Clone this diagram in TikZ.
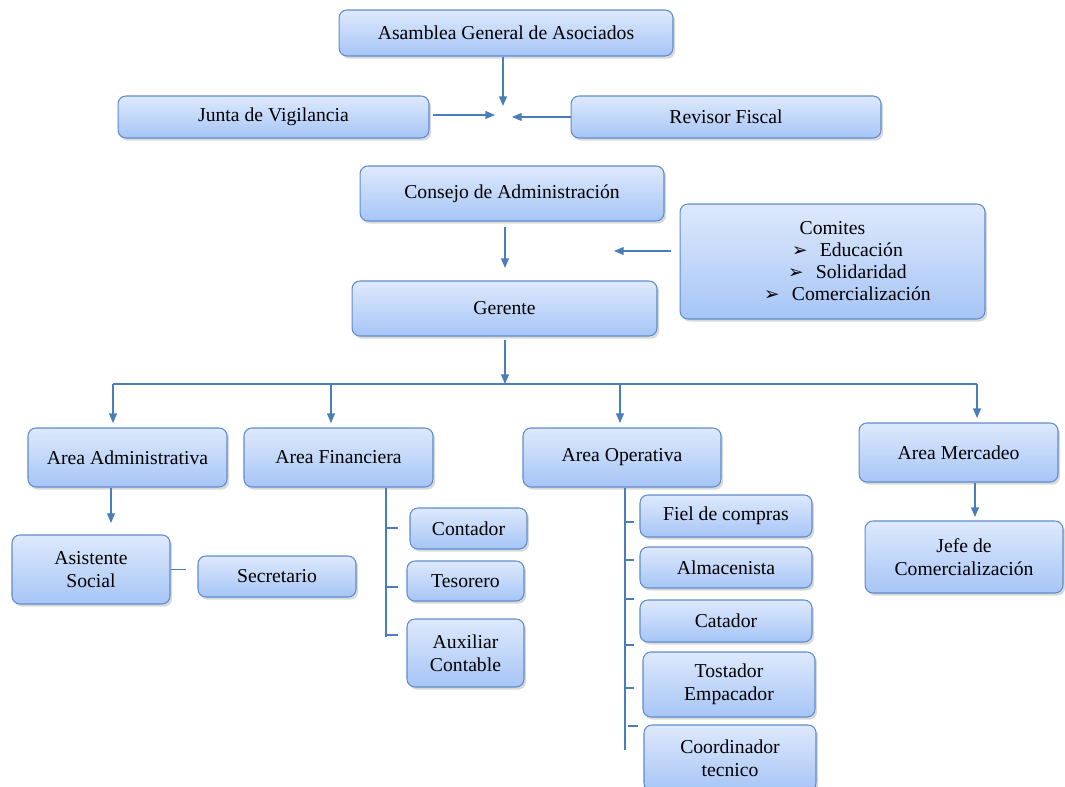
\documentclass[tikz,border=0pt]{standalone}
\usepackage{fontspec}
\setmainfont{Liberation Serif}
\newfontfamily\symfont{DejaVu Sans}
\usetikzlibrary{arrows.meta,shadows}
\definecolor{bordeazul}{RGB}{95,140,205}
\definecolor{lineaazul}{RGB}{74,126,187}
\definecolor{azularriba}{RGB}{222,233,252}
\definecolor{azulabajo}{RGB}{166,197,246}
\newcommand{\vin}{\hspace*{17pt}{\symfont\bfseries\fontsize{10.5}{9}\selectfont ➢}\hspace{7pt}}
\tikzset{
caja/.style={draw=bordeazul, line width=0.6pt, rounded corners=4.5pt, top color=azularriba, bottom color=azulabajo, align=center, font=\fontsize{11.2}{13}\selectfont, inner sep=1pt, drop shadow={shadow xshift=1.2pt, shadow yshift=-1.5pt, opacity=0.3}},
linea/.style={draw=lineaazul, line width=0.75pt},
flecha/.style={linea, -{Triangle[width=4.5pt,length=5.5pt]}}
}

\begin{document}
\begin{tikzpicture}[x=0.02cm,y=-0.02cm]
\useasboundingbox (0,0) rectangle (1065,787);
\node [caja, minimum width=6.68cm, minimum height=0.92cm] (asamblea) at (506,33) {Asamblea General de Asociados};
\node [caja, minimum width=6.22cm, minimum height=0.84cm] (junta) at (273.5,117) {Junta de Vigilancia};
\node [caja, minimum width=6.2cm, minimum height=0.84cm] (revisor) at (726,117) {Revisor Fiscal};
\node [caja, minimum width=6.08cm, minimum height=1.1cm] (consejo) at (512,193.5) {Consejo de Administración};
\node [caja, minimum width=6.1cm, minimum height=2.3cm, font=\fontsize{11.2}{12.5}\selectfont] (comites) at (832.5,261.5) {Comites\\ \vin Educación\\ \vin Solidaridad\\ \vin Comercialización};
\node [caja, minimum width=6.1cm, minimum height=1.1cm] (gerente) at (504.5,308.5) {Gerente};
\node [caja, minimum width=3.98cm, minimum height=1.18cm] (admin) at (127.5,457.5) {Area Administrativa};
\node [caja, minimum width=3.78cm, minimum height=1.18cm] (financ) at (338.5,457.5) {Area Financiera};
\node [caja, minimum width=3.96cm, minimum height=1.18cm] (operat) at (622,457.5) {Area Operativa};
\node [caja, minimum width=3.98cm, minimum height=1.18cm] (mercadeo) at (958.5,452.5) {Area Mercadeo};
\node [caja, minimum width=3.16cm, minimum height=1.38cm] (asistente) at (91,569.5) {Asistente\\ Social};
\node [caja, minimum width=3.16cm, minimum height=0.82cm] (secretario) at (277,576.5) {Secretario};
\node [caja, minimum width=2.34cm, minimum height=0.82cm] (contador) at (468.5,528.5) {Contador};
\node [caja, minimum width=2.34cm, minimum height=0.8cm] (tesorero) at (465.5,581) {Tesorero};
\node [caja, minimum width=2.34cm, minimum height=1.36cm] (auxiliar) at (465.5,653) {Auxiliar\\ Contable};
\node [caja, minimum width=3.44cm, minimum height=0.84cm] (fiel) at (726,516) {Fiel de compras};
\node [caja, minimum width=3.44cm, minimum height=0.82cm] (almacen) at (726,567.5) {Almacenista};
\node [caja, minimum width=3.44cm, minimum height=0.84cm] (catador) at (726,621) {Catador};
\node [caja, minimum width=3.44cm, minimum height=1.3cm] (tostador) at (729,684.5) {Tostador\\ Empacador};
\node [caja, minimum width=3.44cm, minimum height=1.32cm] (coord) at (730,758) {Coordinador\\ tecnico};
\node [caja, minimum width=3.96cm, minimum height=1.44cm] (jefe) at (964,557) {Jefe de\\ Comercialización};

\coordinate (cruceN) at (503,106);
\coordinate (cruceO) at (495,115);
\coordinate (cruceE) at (512,117);
\coordinate (cg) at (505,268);
\coordinate (cc) at (614,251);
\coordinate (bus) at (505,384);
\coordinate (busO) at (113,384);
\coordinate (busE) at (977,384);
\coordinate (adm) at (111,523);
\coordinate (fin0) at (386,637);
\coordinate (ope0) at (625,750);
\coordinate (mj) at (975,517);

\draw[flecha] (asamblea.south -| cruceN) -- (cruceN);
\draw[flecha, shorten <=2pt] (junta.east |- cruceO) -- (cruceO);
\draw[flecha] (revisor.west |- cruceE) -- (cruceE);
\draw[flecha, shorten <=3pt] (consejo.south -| cg) -- (cg);
\draw[flecha, shorten <=5pt] (comites.west |- cc) -- (cc);
\draw[flecha, shorten <=2pt] (gerente.south -| bus) -- (bus);
\draw[linea] (busO) -- (busE);
\foreach \n/\x in {admin/113, financ/331, operat/620, mercadeo/977}{
  \coordinate (b\n) at (\x,384);
  \draw[flecha, shorten >=2.5pt] (b\n) -- (\n.north -| b\n);
}
\draw[flecha] (admin.south -| adm) -- (adm);
\draw[linea, shorten >=6.8pt] (asistente.east) -- (asistente.east -| secretario.west);
\draw[linea] (financ.south -| fin0) -- (fin0);
\foreach \y in {528,587,635}
  \draw[linea] (386,\y) -- (398,\y);
\draw[linea] (operat.south -| ope0) -- (ope0);
\foreach \y in {522,560,599,645,688}
  \draw[linea] (625,\y) -- (634,\y);
\draw[linea] (628,726) -- (638,726);
\draw[flecha] (mercadeo.south -| mj) -- (mj);
\end{tikzpicture}
\end{document}
